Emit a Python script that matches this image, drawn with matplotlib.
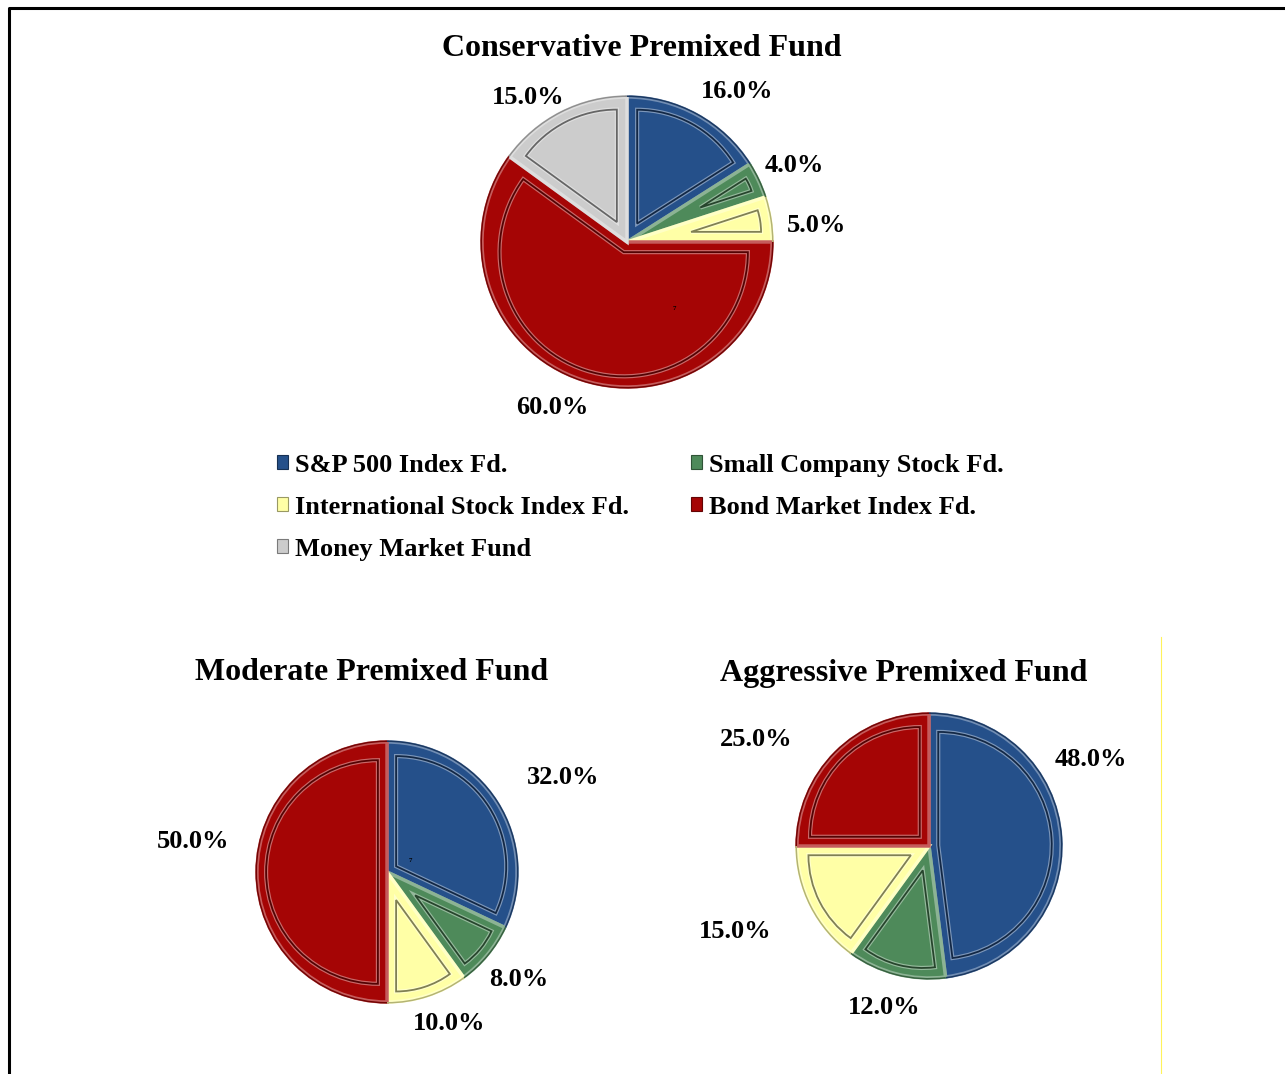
import numpy as np
import matplotlib.pyplot as plt
from matplotlib.lines import Line2D
from matplotlib.patches import Wedge, Patch
from matplotlib.colors import to_rgb

plt.rcParams['font.family'] = ['Liberation Serif', 'DejaVu Serif']
plt.rcParams['font.weight'] = 'bold'

# data
funds = ['S&P 500 Index Fd.', 'Small Company Stock Fd.', 'International Stock Index Fd.',
         'Bond Market Index Fd.', 'Money Market Fund']
colors = ['#25508A', '#4E8A5A', '#FFFFA6', '#A50505', '#CCCCCC']

conservative = [16.0, 4.0, 5.0, 60.0, 15.0]
moderate = [32.0, 8.0, 10.0, 50.0]
aggressive = [48.0, 12.0, 15.0, 25.0]

titles = ['Conservative Premixed Fund', 'Moderate Premixed Fund', 'Aggressive Premixed Fund']

W, H = 1285, 1074

# layout in pixels (x, y from top)
pies = [
    dict(vals=conservative, c=(627, 242), r=145, title=(642, 49),
         lab=[(737, 91), (794, 166), (816, 226), (552, 407), (528, 97)]),
    dict(vals=moderate, c=(387, 872), r=130, title=(372, 673),
         lab=[(563, 777), (519, 980), (449, 1024), (193, 841)]),
    dict(vals=aggressive, c=(929, 846), r=132, title=(904, 673),
         lab=[(1091, 759), (884, 1008), (735, 931), (756, 739)]),
]


def shade(c, f):
    r, g, b = to_rgb(c)
    return (r * f, g * f, b * f)


def tint(c, f):
    r, g, b = to_rgb(c)
    return (r + (1 - r) * f, g + (1 - g) * f, b + (1 - b) * f)


fig = plt.figure(figsize=(W / 100, H / 100), dpi=100)
ax = fig.add_axes([0, 0, 1, 1])

for i, p in enumerate(pies):
    cx, cy = p['c']
    r = p['r']
    n = len(p['vals'])
    cols = colors[:n]
    wedges, _ = ax.pie(p['vals'], colors=cols, startangle=90, counterclock=False,
                       center=(cx, H - cy), radius=r,
                       wedgeprops=dict(linewidth=2.5, edgecolor='none'))
    for w, col in zip(wedges, cols):
        w.set_edgecolor(tint(col, 0.35))
        # bevel: inset copy of each wedge
        t1, t2 = w.theta1, w.theta2
        half = np.radians((t2 - t1) / 2)
        mid = np.radians((t1 + t2) / 2)
        d = 0.07 * r
        off = d / np.sin(min(half, np.pi / 2 - 0.01)) if half < np.pi / 2 else d / np.sin(half)
        ox, oy = w.center[0] + off * np.cos(mid), w.center[1] + off * np.sin(mid)
        rin = r - d - off
        if rin > 5:
            ax.add_patch(Wedge((ox, oy), rin, t1, t2, facecolor='none',
                               edgecolor=tint(col, 0.4), linewidth=3.0))
            ax.add_patch(Wedge((ox, oy), rin, t1, t2, facecolor='none',
                               edgecolor=shade(col, 0.5), linewidth=1.3))
        # dark outer rim
        ax.add_patch(Wedge(w.center, r + 1.5, t1, t2, width=1.5, facecolor=shade(col, 0.7),
                           edgecolor='none'))

    tx, ty = p['title']
    ax.text(tx, H - ty, titles[i], ha='center', va='center', fontsize=23, fontweight='bold')
    for v, (lx, ly) in zip(p['vals'], p['lab']):
        ax.text(lx, H - ly, f'{v:.1f}%', ha='center', va='center', fontsize=19, fontweight='bold')

# stray tiny marks from the original
ax.text(674, H - 309, '7', fontsize=5, ha='center', va='center')
ax.text(410, H - 860, '7', fontsize=5, ha='center', va='center')

ax.set_xlim(0, W)
ax.set_ylim(0, H)
ax.set_aspect('auto')
ax.axis('off')

# legend in row-major order
handles = [Patch(facecolor=c, edgecolor=shade(c, 0.6), linewidth=0.8) for c in colors]
order = [0, 2, 4, 1, 3]
fig.legend([handles[k] for k in order], [funds[k] for k in order], ncol=2,
           loc='upper left', bbox_to_anchor=(266 / W, 1 - 443 / H), frameon=False,
           prop=dict(weight='bold', size=19), handlelength=0.45, handleheight=0.45,
           handletextpad=0.25, columnspacing=2.33, labelspacing=0.72, borderaxespad=0)

# page frame
fig.add_artist(Line2D([9 / W, 9 / W, 1.0], [0.0, 1 - 8 / H, 1 - 8 / H],
                      transform=fig.transFigure, color='black', linewidth=2.2))
fig.add_artist(Line2D([1161 / W, 1161 / W], [0.0, 1 - 637 / H],
                      transform=fig.transFigure, color='#FFF35A', linewidth=0.8))

fig.savefig('out.png', dpi=100)
